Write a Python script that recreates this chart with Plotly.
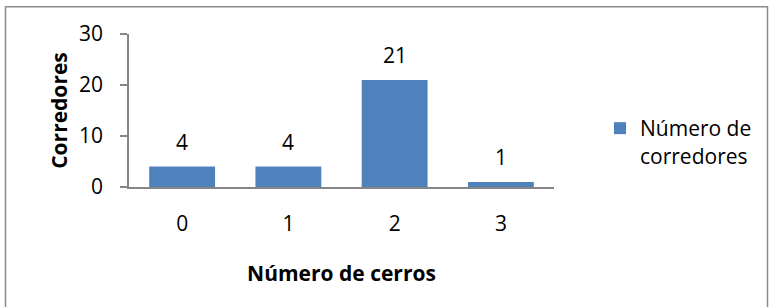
import plotly.graph_objects as go

categories = ["0", "1", "2", "3"]
values = [4, 4, 21, 1]
series_name = "Número de<br>corredores"
y_ticks = [0, 10, 20, 30]
x_title = "Número de cerros"
y_title = "Corredores"

W, H = 769, 307
L, R, T, B = 129, 554, 33.5, 187.5
pw, ph = R - L, B - T
FS = 21

fig = go.Figure()
fig.add_trace(go.Bar(
    x=categories, y=values, name=series_name,
    marker=dict(color="#4F81BD", line=dict(width=0)),
    showlegend=True,
))

for c, v in zip(categories, values):
    fig.add_annotation(x=c, y=v, text=str(v), showarrow=False,
                       yanchor="bottom", yshift=9,
                       font=dict(size=FS, color="#000000"))

font_family = "Open Sans, Noto Sans, sans-serif"

fig.update_layout(
    width=W, height=H,
    margin=dict(l=L, r=W - R, t=T, b=H - B, pad=0),
    paper_bgcolor="white", plot_bgcolor="white",
    bargap=0.38,
    font=dict(family=font_family, size=FS, color="#000000"),
    xaxis=dict(
        type="category",
        showline=True, linecolor="#868686", linewidth=1.5,
        ticks="", showgrid=False, zeroline=False,
        tickfont=dict(size=FS),
        title=dict(text="<b>" + x_title + "</b>", font=dict(size=FS), standoff=30),
        ticklabelstandoff=17,
    ),
    yaxis=dict(
        range=[0, 30], tickvals=y_ticks,
        showline=True, linecolor="#868686", linewidth=1.5,
        ticks="outside", ticklen=7, tickcolor="#868686", tickwidth=1.5,
        showgrid=False, zeroline=False,
        tickfont=dict(size=FS),
        title=dict(text="<b>" + y_title + "</b>", font=dict(size=FS), standoff=6),
        ticklabelstandoff=13,
    ),
    legend=dict(
        x=(600 - L) / pw, y=(B - 108) / ph, xanchor="left", yanchor="top",
        font=dict(size=FS), valign="top", bgcolor="rgba(0,0,0,0)",
        itemwidth=30,
    ),
    shapes=[dict(
        type="rect", xref="paper", yref="paper",
        x0=(5.5 - L) / pw, x1=(767.5 - L) / pw,
        y0=(B - 320) / ph, y1=(B - 6) / ph,
        line=dict(color="#8C8C8C", width=1.5), fillcolor="rgba(0,0,0,0)",
        layer="below",
    )],
)

fig.write_html("out.html", config={"displayModeBar": False},
               post_script="document.body.style.margin='0';")
